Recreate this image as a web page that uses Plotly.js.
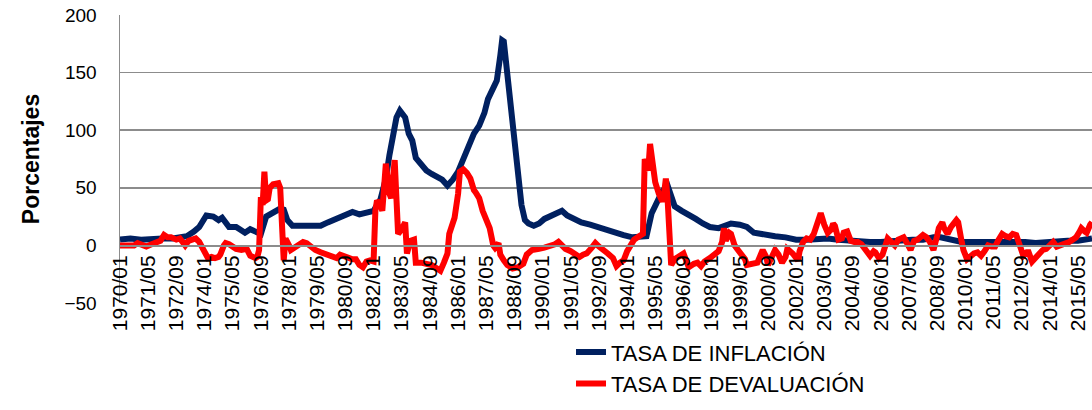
<!DOCTYPE html>
<html>
<head>
<meta charset="utf-8">
<script src="https://cdn.plot.ly/plotly-3.0.1.min.js"></script>
<style>
html,body{margin:0;padding:0;background:#fff;}
#chart{width:1092px;height:410px;}
</style>
</head>
<body>
<div id="chart"></div>
<script>
// ---- Data ----
const tickLabels = ["1970/01","1971/05","1972/09","1974/01","1975/05","1976/09","1978/01","1979/05","1980/09","1982/01","1983/05","1984/09","1986/01","1987/05","1988/09","1990/01","1991/05","1992/09","1994/01","1995/05","1996/09","1998/01","1999/05","2000/09","2002/01","2003/05","2004/09","2006/01","2007/05","2008/09","2010/01","2011/05","2012/09","2014/01","2015/05"];

const inflacionMeses = ["1970/01","1970/07","1971/01","1971/07","1972/01","1972/07","1972/11","1973/03","1973/07","1973/10","1974/02","1974/06","1974/09","1974/11","1975/03","1975/07","1975/09","1975/12","1976/03","1976/07","1976/09","1976/12","1977/04","1977/08","1977/10","1977/12","1978/03","1978/09","1979/03","1979/07","1979/11","1980/02","1980/08","1981/01","1981/05","1981/09","1982/01","1982/05","1982/08","1982/10","1982/12","1983/02","1983/04","1983/07","1983/09","1983/11","1984/01","1984/04","1984/07","1984/10","1985/01","1985/04","1985/07","1985/10","1986/01","1986/04","1986/07","1986/10","1987/01","1987/04","1987/06","1987/08","1987/11","1988/01","1988/02","1988/03","1988/05","1988/07","1988/09","1988/11","1989/01","1989/03","1989/05","1989/08","1989/11","1990/02","1990/05","1990/09","1990/12","1991/03","1991/07","1991/11","1992/04","1992/08","1993/01","1993/06","1993/11","1994/04","1994/09","1994/12","1995/03","1995/06","1995/09","1995/12","1996/02","1996/04","1996/08","1996/12","1997/04","1997/08","1997/12","1998/05","1998/09","1998/12","1999/05","1999/09","2000/01","2000/07","2001/01","2001/07","2002/01","2002/07","2003/01","2003/07","2004/01","2004/07","2005/01","2005/07","2006/01","2006/07","2007/01","2007/07","2008/01","2008/07","2008/11","2009/05","2009/11","2010/05","2010/11","2011/05","2011/11","2012/05","2012/11","2013/05","2013/11","2014/05","2014/11","2015/05","2015/09","2016/01"];
const inflacionValores = [5,6,5,6,6,6,7,8,12,16,26,25,22,24,16,16,14,11,14,12,10,25,29,32,31,22,17,17,16,17,20,22,27,29,27,28,30,40,58,78,97,111,117,111,97,91,76,70,65,62,59,57,52,57,64,74,86,97,104,115,127,133,143,165,178,177,150,115,85,60,35,22,19,17,19,23,25,28,30,26,23,20,18,16,13,11,9,7,7,8,28,38,47,52,44,34,30,27,23,19,16,15,17,19,18,16,11,9,8,7,5,5,6,6,5,4,4,3,3,4,4,5,5,7,7,5,3,3,3,4,4,3,3,2,3,3,4,4,5,6];

const devaluacionMeses = ["1970/01","1970/04","1970/07","1970/09","1970/11","1971/02","1971/04","1971/07","1971/09","1971/12","1972/02","1972/04","1972/06","1972/09","1972/11","1973/01","1973/02","1973/04","1973/06","1973/08","1973/10","1973/11","1974/01","1974/03","1974/05","1974/07","1974/09","1974/10","1974/12","1975/01","1975/03","1975/05","1975/07","1975/10","1975/12","1976/01","1976/03","1976/06","1976/07","1976/08","1976/09","1976/10","1976/11","1976/12","1977/01","1977/02","1977/04","1977/06","1977/07","1977/08","1977/09","1977/10","1977/11","1977/12","1978/01","1978/02","1978/04","1978/06","1978/09","1978/11","1979/01","1979/04","1979/07","1979/09","1979/12","1980/02","1980/04","1980/06","1980/09","1980/11","1981/01","1981/03","1981/05","1981/07","1981/09","1981/11","1982/01","1982/02","1982/03","1982/05","1982/06","1982/08","1982/09","1982/10","1982/11","1983/01","1983/02","1983/03","1983/05","1983/07","1983/08","1983/09","1983/10","1983/12","1984/01","1984/04","1984/07","1984/10","1985/01","1985/03","1985/05","1985/07","1985/08","1985/10","1985/11","1986/01","1986/02","1986/04","1986/06","1986/08","1986/09","1986/10","1986/11","1987/01","1987/03","1987/05","1987/07","1987/09","1987/10","1987/12","1988/01","1988/03","1988/05","1988/08","1988/11","1989/02","1989/04","1989/07","1989/09","1989/11","1990/02","1990/05","1990/08","1990/10","1990/12","1991/02","1991/05","1991/08","1991/10","1991/12","1992/02","1992/05","1992/07","1992/09","1992/11","1993/02","1993/05","1993/07","1993/09","1993/11","1994/01","1994/03","1994/05","1994/07","1994/10","1994/11","1995/01","1995/02","1995/04","1995/05","1995/07","1995/09","1995/10","1995/11","1995/12","1996/01","1996/02","1996/04","1996/06","1996/08","1996/09","1996/11","1996/12","1997/03","1997/05","1997/07","1997/09","1997/12","1998/03","1998/05","1998/07","1998/08","1998/09","1998/11","1998/12","1999/02","1999/04","1999/06","1999/08","1999/09","1999/12","2000/03","2000/06","2000/08","2000/09","2000/11","2001/01","2001/03","2001/05","2001/07","2001/08","2001/11","2002/01","2002/02","2002/03","2002/05","2002/07","2002/09","2002/11","2003/01","2003/03","2003/05","2003/07","2003/09","2003/10","2003/11","2004/01","2004/03","2004/04","2004/06","2004/08","2004/10","2004/12","2005/02","2005/04","2005/07","2005/09","2005/10","2005/12","2006/02","2006/05","2006/07","2006/09","2006/11","2007/02","2007/04","2007/06","2007/08","2007/10","2008/01","2008/03","2008/05","2008/07","2008/09","2008/10","2008/12","2009/01","2009/03","2009/05","2009/08","2009/09","2009/11","2009/12","2010/02","2010/04","2010/06","2010/08","2010/10","2010/12","2011/02","2011/04","2011/06","2011/08","2011/10","2011/12","2012/02","2012/04","2012/06","2012/08","2012/10","2012/12","2013/01","2013/03","2013/05","2013/07","2013/09","2013/11","2014/01","2014/03","2014/05","2014/07","2014/09","2014/12","2015/02","2015/04","2015/06","2015/07","2015/09","2015/10","2015/12","2016/01"];
const devaluacionValores = [0,0,-1,0,2,0,-1,1,2,4,9,7,7,5,6,3,0,4,5,6,3,0,-8,-11,-10,-11,-10,-8,0,2,1,-1,-3,-4,-3,-3,-9,-11,-10,-4,42,35,64,39,40,50,53,54,54,50,5,-13,6,4,0,-4,-2,0,3,2,-1,-4,-6,-7,-9,-9,-11,-8,-10,-10,-12,-12,-17,-19,-14,-13,-14,30,39,35,30,71,55,45,41,74,40,10,14,20,-7,2,4,5,-15,-15,-16,-17,-20,-22,-15,-7,10,18,24,45,64,66,63,58,50,48,46,41,30,22,15,0,-2,2,-8,-13,-17,-20,-19,-16,-8,-4,-3,-3,-2,-1,1,3,0,-3,-5,-9,-10,-8,-7,-2,2,-1,-4,-7,-11,-18,-15,-13,-5,0,5,7,10,75,65,88,70,55,45,38,45,58,40,0,-17,-12,-10,-8,-7,-15,-19,-16,-15,-18,-14,-11,-7,-5,3,15,4,11,10,0,-4,-8,-12,-17,-16,-15,-4,-10,-17,-10,-4,-8,-15,-10,-3,-7,-12,-13,-5,3,6,5,10,20,28,18,11,14,19,17,5,6,11,12,4,3,3,1,-3,-9,-5,-6,-11,-8,6,2,0,5,7,2,-4,4,5,9,7,3,-4,8,15,20,15,10,16,22,20,3,-4,-12,-9,-7,-6,-9,-5,0,-1,-1,5,10,8,7,10,9,0,-9,-6,-6,-14,-10,-6,-4,-3,0,3,-1,0,2,3,5,7,12,15,12,11,18,20];

// ---- Helpers ----
const toDate = s => s.replace('/', '-') + '-01';
const FONT = 'Liberation Sans, Arial, sans-serif';
const GRID = '#8c8c8c';

const traces = [
  {
    x: inflacionMeses.map(toDate), y: inflacionValores,
    type: 'scatter', mode: 'lines', name: 'TASA DE INFLACIÓN',
    line: {color: '#002060', width: 6, shape: 'linear'}
  },
  {
    x: devaluacionMeses.map(toDate), y: devaluacionValores,
    type: 'scatter', mode: 'lines', name: 'TASA DE DEVALUACIÓN',
    line: {color: '#ff0000', width: 6, shape: 'linear'}
  }
];

const layout = {
  width: 1092, height: 410,
  margin: {l: 120, r: 0, t: 15, b: 107},
  paper_bgcolor: '#ffffff', plot_bgcolor: '#ffffff',
  font: {family: FONT, color: '#000000'},
  showlegend: true,
  legend: {
    x: 0.464, xanchor: 'left', y: -0.098, yanchor: 'top',
    orientation: 'v', font: {family: FONT, size: 22, color: '#000'},
    bgcolor: 'rgba(0,0,0,0)', tracegroupgap: 0, itemwidth: 30
  },
  xaxis: {
    type: 'date',
    range: ['1970-01-01', '2016-01-01'],
    anchor: 'free', position: 0.2,
    tickmode: 'array',
    tickvals: tickLabels.map(toDate),
    ticktext: tickLabels,
    tickangle: -90,
    tickfont: {family: FONT, size: 21, color: '#000'},
    showgrid: false, zeroline: false,
    showline: true, linecolor: GRID, linewidth: 1.5,
    ticks: '', automargin: false
  },
  yaxis: {
    range: [-50, 200],
    tickmode: 'linear', tick0: -50, dtick: 50,
    tickfont: {family: FONT, size: 19, color: '#000'},
    showgrid: true, gridcolor: GRID, gridwidth: 1.5,
    zeroline: false,
    showline: true, linecolor: GRID, linewidth: 1.5,
    ticks: '', ticklabelstandoff: 18,
    automargin: false,
    title: {text: 'Porcentajes', font: {family: FONT, size: 23, color: '#000', weight: 'bold'}, standoff: 18}
  }
};

Plotly.newPlot('chart', traces, layout, {staticPlot: true, displayModeBar: false});
</script>
</body>
</html>
